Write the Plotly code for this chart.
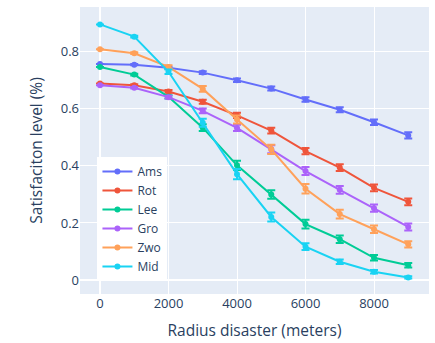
import plotly.graph_objects as go

radius = [0, 1000, 2000, 3000, 4000, 5000, 6000, 7000, 8000, 9000]

names = ["Ams", "Rot", "Lee", "Gro", "Zwo", "Mid"]

ams = [0.757, 0.755, 0.744, 0.727, 0.700, 0.671, 0.633, 0.597, 0.553, 0.507]
rot = [0.689, 0.683, 0.661, 0.625, 0.577, 0.524, 0.452, 0.394, 0.323, 0.274]
lee = [0.747, 0.720, 0.642, 0.534, 0.402, 0.300, 0.196, 0.143, 0.078, 0.052]
gro = [0.683, 0.674, 0.641, 0.593, 0.533, 0.458, 0.382, 0.316, 0.252, 0.186]
zwo = [0.809, 0.795, 0.747, 0.670, 0.563, 0.458, 0.320, 0.231, 0.178, 0.125]
mid = [0.896, 0.853, 0.730, 0.551, 0.371, 0.221, 0.117, 0.064, 0.029, 0.009]

ams_err = [0.0, 0.002, 0.004, 0.005, 0.006, 0.007, 0.008, 0.009, 0.010, 0.011]
rot_err = [0.0, 0.003, 0.005, 0.007, 0.009, 0.010, 0.011, 0.012, 0.012, 0.012]
lee_err = [0.0, 0.003, 0.006, 0.012, 0.016, 0.015, 0.015, 0.013, 0.010, 0.008]
gro_err = [0.0, 0.003, 0.005, 0.008, 0.011, 0.014, 0.014, 0.014, 0.013, 0.012]
zwo_err = [0.0, 0.003, 0.006, 0.010, 0.014, 0.016, 0.017, 0.015, 0.013, 0.011]
mid_err = [0.0, 0.003, 0.008, 0.014, 0.018, 0.016, 0.012, 0.008, 0.006, 0.004]

colors = ["#636efa", "#EF553B", "#00cc96", "#ab63fa", "#FFA15A", "#19d3f3"]

series = [ams, rot, lee, gro, zwo, mid]
errors = [ams_err, rot_err, lee_err, gro_err, zwo_err, mid_err]

fig = go.Figure()
for name, ys, es, c in zip(names, series, errors, colors):
    fig.add_trace(go.Scatter(
        x=radius, y=ys, name=name, mode="lines+markers",
        line=dict(color=c, width=2), marker=dict(color=c, size=6),
        error_y=dict(type="data", array=es, visible=True, color=c, thickness=2, width=4),
    ))

fig.update_layout(
    width=435, height=343,
    margin=dict(l=80, r=6, t=7, b=47),
    template="plotly",
    font=dict(size=12.5),
    xaxis=dict(title=dict(text="Radius disaster (meters)", font=dict(size=15.5), standoff=14),
               tickvals=[0, 2000, 4000, 6000, 8000], tickfont=dict(size=13),
               range=[-584, 9606]),
    yaxis=dict(title=dict(text="Satisfaciton level (%)", font=dict(size=15.5), standoff=14),
               tickvals=[0, 0.2, 0.4, 0.6, 0.8], tickfont=dict(size=13),
               range=[-0.049, 0.957]),
    legend=dict(x=0.05, y=0.045, xanchor="left", yanchor="bottom", bgcolor="white",
                font=dict(size=12)),
)

fig.write_html("out.html")
